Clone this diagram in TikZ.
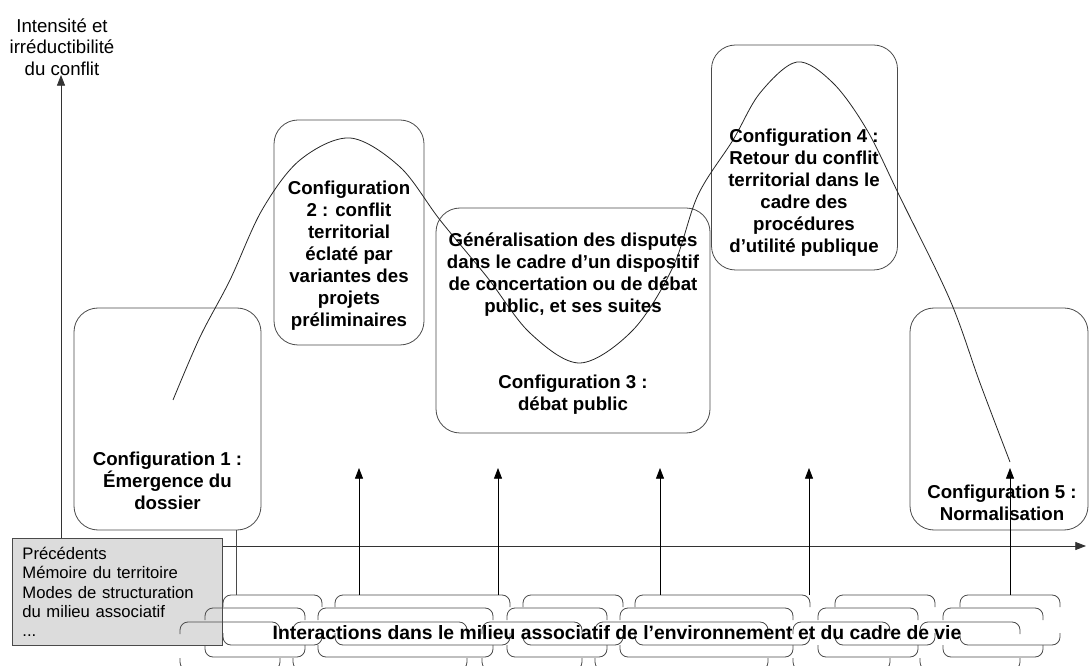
\documentclass[tikz,border=0pt]{standalone}
\usepackage{fontspec}
\setmainfont{Liberation Sans}
\usetikzlibrary{arrows.meta}
\definecolor{linegrey}{HTML}{4A4A4A}
\definecolor{boxgrey}{HTML}{DCDCDC}
\newcommand{\bracketlink}[4]{\draw[link] ( #1 , #3+12 ) -- ( #1 , #3 ) -- ( #2 , #3 ) -- ( #2 , #3+12 ); \draw[link] ( #1 , #4-12 ) -- ( #1 , #4 ) -- ( #2 , #4 ) -- ( #2 , #4-12 );}

\begin{document}
\begin{tikzpicture}[x=0.75pt, y=-0.75pt,
    cfgbox/.style={draw=linegrey, line width=0.6pt, rounded corners=18pt, inner sep=0pt},
    cfgtext/.style={font=\bfseries\fontsize{14}{16.5}\selectfont, align=center, inner sep=0pt},
    link/.style={draw=linegrey, line width=0.6pt, rounded corners=6pt},
    axis/.style={draw=black!80, line width=0.6pt, -{Triangle[length=8pt, width=6pt]}},
    uparrow/.style={draw=black, line width=0.6pt, -{Triangle[length=8pt, width=6pt]}}]
    \useasboundingbox (0,0) rectangle (1089,666);
    % axes
    \node[font=\fontsize{14}{16}\selectfont, align=center, inner sep=0pt] (ylabel) at (62,47) {Intensité et\\irréductibilité\\du conflit};
    \coordinate (origin) at (61,546);
    \coordinate (ytip) at (61,75);
    \coordinate (xtip) at (1086,546);
    \draw[axis] (origin) -- (ytip);
    \draw[axis] (origin) -- (xtip);
    % background of the configurations
    \node[draw=linegrey, fill=boxgrey, line width=0.6pt, anchor=north west, minimum width=157.5pt, minimum height=80.25pt,
          text width=142.5pt, inner xsep=7.5pt, align=left, font=\fontsize{12.5}{14.5}\selectfont] (prec) at (12,538)
          {Précédents\\Mémoire du territoire\\Modes de structuration\\du milieu associatif\\...};
    % configuration boxes
    \node[cfgbox, minimum width=140.25pt, minimum height=166.5pt] (c1) at (167.5,419) {};
    \node[cfgbox, minimum width=112.5pt, minimum height=168.75pt] (c2) at (349,232.5) {};
    \node[cfgbox, minimum width=205.5pt, minimum height=168.75pt] (c3) at (573,320.5) {};
    \node[cfgbox, minimum width=139.5pt, minimum height=168.75pt] (c4) at (804.5,157.5) {};
    \node[cfgbox, minimum width=133.5pt, minimum height=166.5pt] (c5) at (999,419) {};
    % the conflict curve
    \draw[black!85, line width=0.6pt] plot[smooth, tension=0.55] coordinates {
        (173,400) (200,337) (230,280) (262,210) (300,160) (350,138) (400,167) (440,220)
        (487,277) (530,333) (580,363) (633,330) (673,267) (698,195) (733,140) (760,93)
        (797,62) (833,83) (867,130) (900,197) (950,300) (980,383) (1010,462)};
    % configuration texts
    \node[cfgtext] (t1) at (167.5,481) {Configuration 1 :\\Émergence du\\dossier};
    \node[cfgtext] (t2) at (349,255.5) {Configuration\\2 : conflit\\territorial\\éclaté par\\variantes des\\projets\\préliminaires};
    \node[cfgtext] (t3a) at (573,275) {Généralisation des disputes\\dans le cadre d’un dispositif\\de concertation ou de débat\\public, et ses suites};
    \node[cfgtext] (t3b) at (573,395) {Configuration 3 :\\débat public};
    \node[cfgtext] (t4) at (804,192.5) {Configuration 4 :\\Retour du conflit\\territorial dans le\\cadre des\\procédures\\d’utilité publique};
    \node[cfgtext] (t5) at (1002,503) {Configuration 5 :\\Normalisation};
    % row A
    \bracketlink{223}{322}{595}{645}
    \bracketlink{335}{510}{595}{645}
    \bracketlink{523}{623}{595}{645}
    \bracketlink{635}{810}{595}{645}
    \bracketlink{835}{935}{595}{645}
    \bracketlink{960}{1060}{595}{645}
    % row B
    \bracketlink{205}{305}{608}{657}
    \bracketlink{318}{493}{608}{657}
    \bracketlink{507}{607}{608}{657}
    \bracketlink{620}{793}{608}{657}
    \bracketlink{818}{918}{608}{657}
    \bracketlink{943}{1043}{608}{657}
    % row C
    \bracketlink{180}{280}{622}{670}
    \bracketlink{293}{467}{622}{670}
    \bracketlink{482}{582}{622}{670}
    \bracketlink{595}{768}{622}{670}
    \bracketlink{793}{890}{622}{670}
    \bracketlink{920}{1020}{622}{670}
    \node[font=\bfseries\fontsize{14.5}{17}\selectfont, inner sep=0pt] (interact) at (617,633)
        {Interactions dans le milieu associatif de l’environnement et du cadre de vie};
    % links to the configurations
    \coordinate (drop1) at (236,595);
    \draw[linegrey, line width=0.6pt] (drop1 |- c1.south) -- (drop1);
    \coordinate (foot2) at (359,595);
    \coordinate (tip2) at (359,468);
    \draw[uparrow] (foot2) -- (tip2);
    \coordinate (foot3) at (498,595);
    \coordinate (tip3) at (498,468);
    \draw[uparrow] (foot3) -- (tip3);
    \coordinate (foot4) at (660,595);
    \coordinate (tip4) at (660,468);
    \draw[uparrow] (foot4) -- (tip4);
    \coordinate (foot5) at (809,595);
    \coordinate (tip5) at (809,468);
    \draw[uparrow] (foot5) -- (tip5);
    \coordinate (foot6) at (1010,595);
    \coordinate (tip6) at (1010,468);
    \draw[uparrow] (foot6) -- (tip6);
\end{tikzpicture}
\end{document}
